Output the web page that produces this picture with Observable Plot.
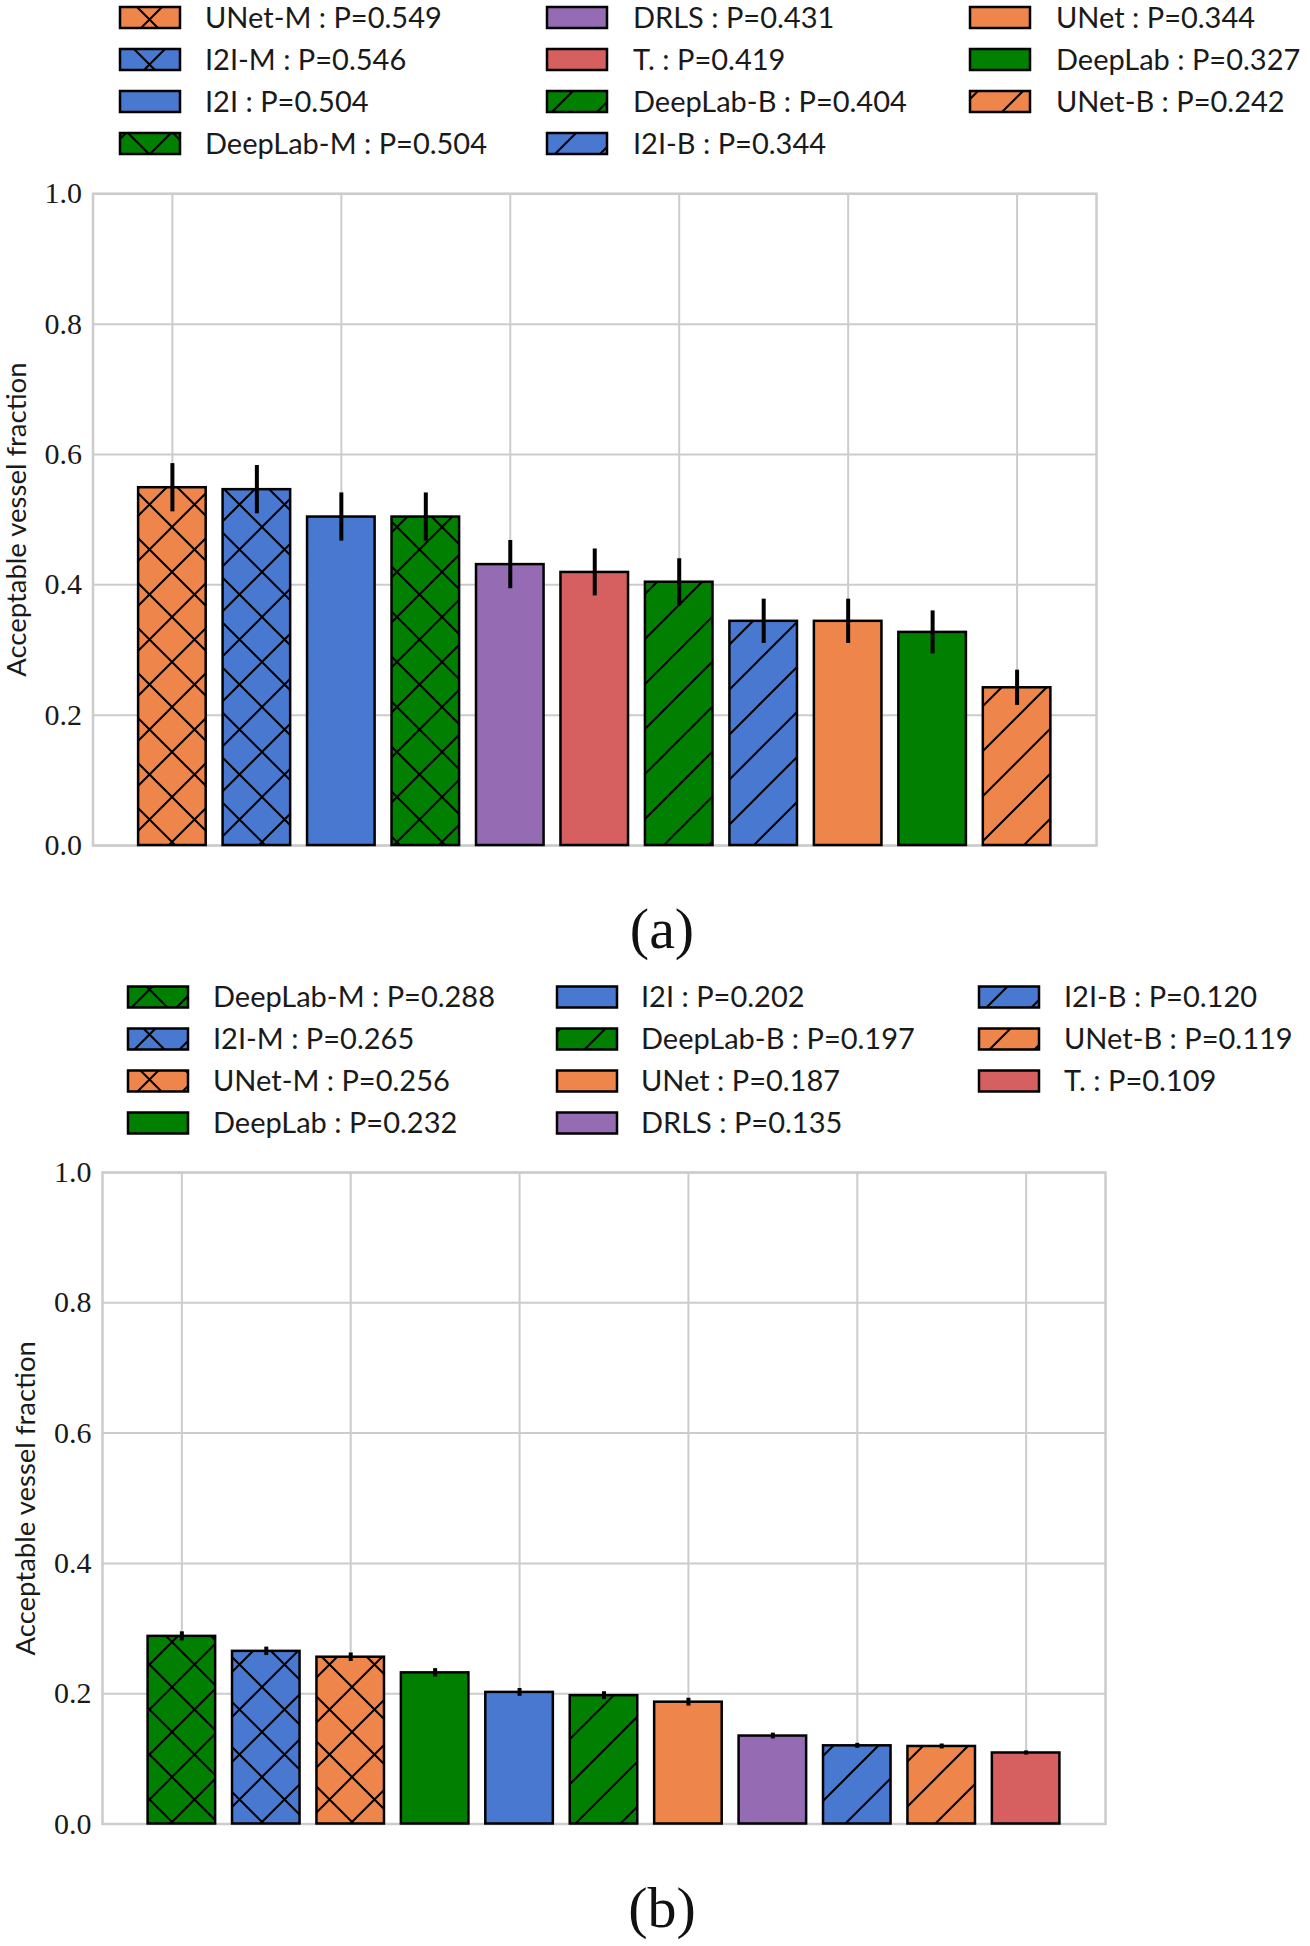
<!DOCTYPE html>
<html><head><meta charset="utf-8">
<script src="https://cdn.jsdelivr.net/npm/d3@7"></script>
<script src="https://cdn.jsdelivr.net/npm/@observablehq/plot@0.6"></script>
<style>
body{margin:0;background:#fff;}
#root{position:relative;width:1310px;height:1946px;background:#fff;overflow:hidden;}
#root > svg{position:absolute;left:0;}
</style></head><body><div id="root"></div>
<script>
// ---------- data ----------
const namesA  = ["UNet-M","I2I-M","I2I","DeepLab-M","DRLS","T.","DeepLab-B","I2I-B","UNet","DeepLab","UNet-B"];
const valuesA = [0.549,0.546,0.504,0.504,0.431,0.419,0.404,0.344,0.344,0.327,0.242];
const errA    = [0.037,0.037,0.037,0.037,0.037,0.036,0.036,0.034,0.034,0.033,0.027];

const namesB  = ["DeepLab-M","I2I-M","UNet-M","DeepLab","I2I","DeepLab-B","UNet","DRLS","I2I-B","UNet-B","T."];
const valuesB = [0.288,0.265,0.256,0.232,0.202,0.197,0.187,0.135,0.120,0.119,0.109];
const errB    = [0.0070,0.0065,0.0065,0.0065,0.0060,0.0060,0.0060,0.0045,0.0038,0.0038,0.0032];

const yTicks = [0,0.2,0.4,0.6,0.8,1.0];
const yLabel = "Acceptable vessel fraction";
const panelLabels = ["(a)","(b)"];

// ---------- styles ----------
const families = ["UNet","I2I","DeepLab","DRLS","T."];
const familyColor = {"UNet":"#EE854A","I2I":"#4878D0","DeepLab":"#007F00","DRLS":"#956CB4","T.":"#D65F5F"};
const HATCH = 45;
const root = document.getElementById("root");

function familyOf(name){ return name.replace(/-(M|B)$/,""); }
function hatchOf(name){ return /-M$/.test(name) ? "x" : /-B$/.test(name) ? "s" : null; }
function fillFor(name){
  const f = familyOf(name), h = hatchOf(name);
  return h ? `url(#h-${families.indexOf(f)}-${h})` : familyColor[f];
}

// pattern defs
const defs = d3.select(root).append("svg").attr("width",0).attr("height",0)
  .style("position","absolute").style("top","0px").append("defs");
families.forEach((f,k)=>{
  ["x","s"].forEach(h=>{
    const p = defs.append("pattern").attr("id",`h-${k}-${h}`)
      .attr("patternUnits","userSpaceOnUse").attr("width",HATCH).attr("height",HATCH)
      .attr("x",37).attr("y",42);
    p.append("rect").attr("width",HATCH).attr("height",HATCH).attr("fill",familyColor[f]);
    let d = `M-5,5L5,-5M0,${HATCH}L${HATCH},0M${HATCH-5},${HATCH+5}L${HATCH+5},${HATCH-5}`;
    if (h==="x") d += `M-5,${HATCH-5}L5,${HATCH+5}M0,0L${HATCH},${HATCH}M${HATCH-5},-5L${HATCH+5},5`;
    p.append("path").attr("d",d).attr("stroke","#000").attr("stroke-width",2).attr("fill","none");
  });
});

// ---------- legends ----------
function legend(names, values, cfg){
  const svg = d3.select(root).append("svg").attr("width",1310).attr("height",cfg.h)
    .style("top", cfg.top+"px");
  names.forEach((name,i)=>{
    const col = Math.floor(i/4), row = i%4;
    const cy = cfg.rows[row] - cfg.top;
    svg.append("rect").attr("x",cfg.patchX[col]).attr("y",cy-10.5).attr("width",60).attr("height",21)
      .attr("fill",fillFor(name)).attr("stroke","#000").attr("stroke-width",2.5);
    svg.append("text").attr("x",cfg.textX[col]).attr("y",cy).attr("dy","0.36em")
      .attr("font-family","Lato, 'Open Sans', sans-serif").attr("font-size",29).attr("fill","#1a1a1a")
      .text(`${name} : P=${values[i].toFixed(3)}`);
  });
}
legend(namesA, valuesA, {top:0, h:170, rows:[17.5,59.5,101.5,143.5], patchX:[120,547,970], textX:[205,633,1056]});
legend(namesB, valuesB, {top:970, h:175, rows:[997,1039,1081,1123], patchX:[128,557,979], textX:[213,641,1064]});

// ---------- panels ----------
function panel(names, values, errs, cfg){
  const data = names.map((name,i)=>({name, i, value: values[i], err: errs[i]}));
  const even = data.filter(d=>d.i%2===0).map(d=>d.i);
  const n = names.length;
  const svg = Plot.plot({
    width: 1310, height: cfg.height,
    marginLeft: cfg.ml, marginRight: cfg.mr, marginTop: cfg.mt, marginBottom: cfg.mb,
    x: {domain: [-0.94, n - 1 + 0.94], axis: null},
    y: {domain: [0, 1], axis: null},
    color: {type: "identity"},
    style: {background: "transparent", overflow: "visible"},
    marks: [
      Plot.ruleY(yTicks, {stroke: "#cccccc", strokeWidth: 2}),
      Plot.ruleX(even, {stroke: "#cccccc", strokeWidth: 2}),
      Plot.frame({stroke: "#cccccc", strokeWidth: 2.5}),
      Plot.rect(data, {x1: d => d.i - 0.4, x2: d => d.i + 0.4, y1: 0, y2: "value",
        fill: d => fillFor(d.name), stroke: "#000", strokeWidth: 2.5}),
      Plot.ruleX(data, {x: "i", y1: d => d.value - d.err, y2: d => d.value + d.err,
        stroke: "#000", strokeWidth: 4}),
      Plot.text(yTicks, {y: d => d, text: d => d.toFixed(1), frameAnchor: "left", textAnchor: "end",
        dx: -11, fontSize: 30, fontFamily: "Liberation Serif, serif", fill: "#1a1a1a"}),
      Plot.text([yLabel], {frameAnchor: "left", rotate: -90, textAnchor: "middle", dx: -76, fontSize: 27.5,
        fontFamily: "Lato, sans-serif", fill: "#1a1a1a"})
    ]
  });
  svg.style.top = cfg.top + "px";
  root.appendChild(svg);
}
panel(namesA, valuesA, errA, {top:170, height:700, ml:92.5, mr:214, mt:23.3, mb:25});
panel(namesB, valuesB, errB, {top:1150, height:700, ml:102, mr:205, mt:22, mb:26.5});

// ---------- captions ----------
const cap = d3.select(root).append("svg").attr("width",1310).attr("height",1946).style("top","0px")
  .style("pointer-events","none");
[[948, panelLabels[0]],[1927, panelLabels[1]]].forEach(([y,t])=>{
  cap.append("text").attr("x",662).attr("y",y).attr("text-anchor","middle")
    .attr("font-family","Liberation Serif, serif").attr("font-size",58).attr("fill","#111").text(t);
});
</script></body></html>
